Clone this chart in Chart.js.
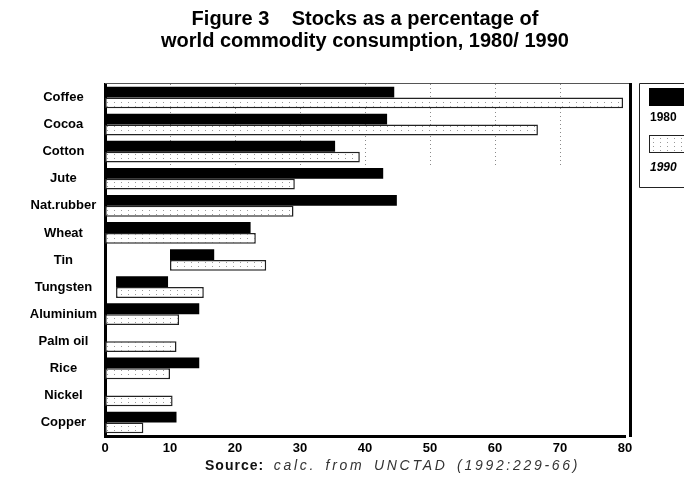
<!DOCTYPE html>
<html><head><meta charset="utf-8">
<script src="https://cdn.jsdelivr.net/npm/chart.js@4"></script>
<style>
html,body{margin:0;padding:0;background:#fff;}
#wrap{position:relative;width:684px;height:479px;}
#source{position:absolute;left:205px;top:457px;font-family:'Liberation Sans',Arial,sans-serif;font-size:14px;color:#111;white-space:nowrap;letter-spacing:2.7px;word-spacing:3px;}
#source b{font-weight:bold;letter-spacing:1px;}
#source i{font-style:italic;color:#333;}
</style></head><body>
<div id="wrap"><canvas id="c" width="684" height="479"></canvas>
<div id="source"><b>Source:</b> <i>calc. from UNCTAD (1992:229-66)</i></div></div>
<script>
const categories = ['Coffee','Cocoa','Cotton','Jute','Nat.rubber','Wheat','Tin','Tungsten','Aluminium','Palm oil','Rice','Nickel','Copper'];
const values1980 = [44.5, 43.4, 35.4, 42.8, 44.9, 22.4, 16.8, 9.7, 14.5, null, 14.5, null, 11.0];
const values1990 = [79.7, 66.6, 39.2, 29.2, 29.0, 23.2, 24.8, 15.2, 11.4, 11.0, 10.0, 10.4, 5.9];
const starts1980 = [0, 0, 0, 0, 0, 0, 10, 1.7, 0, 0, 0, 0, 0];
const starts1990 = [0, 0, 0, 0, 0, 0, 10, 1.7, 0, 0, 0, 0, 0];
const seriesLabels = ['1980', '1990'];
const xTicks = [0, 10, 20, 30, 40, 50, 60, 70, 80];
const titleLines = ['Figure 3    Stocks as a percentage of', 'world commodity consumption, 1980/ 1990'];
const gridRows = 3; // dotted grid visible over the first rows

function makeDots() {
  const p = document.createElement('canvas');
  p.width = 7; p.height = 4;
  const g = p.getContext('2d');
  g.fillStyle = '#fff'; g.fillRect(0, 0, 7, 4);
  g.fillStyle = '#999'; g.fillRect(2, 2, 1, 1);
  return g.createPattern(p, 'repeat');
}
const dots = makeDots();

const FONT = "'Liberation Sans', Arial, sans-serif";

const partialGrid = {
  id: 'partialGrid',
  beforeDatasetsDraw(chart) {
    const {ctx, chartArea, scales: {x, y}} = chart;
    const step = y.getPixelForValue(1) - y.getPixelForValue(0);
    const bottomY = y.getPixelForValue(gridRows - 1) + step / 2;
    ctx.save();
    ctx.strokeStyle = '#8a8a8a';
    ctx.lineWidth = 1;
    ctx.setLineDash([1, 3]);
    for (const t of xTicks) {
      if (t === xTicks[0] || t === xTicks[xTicks.length - 1]) continue;
      const px = Math.round(x.getPixelForValue(t)) + 0.5;
      ctx.beginPath(); ctx.moveTo(px, chartArea.top); ctx.lineTo(px, bottomY); ctx.stroke();
    }
    ctx.restore();
  }
};

const frameAndLegend = {
  id: 'frameAndLegend',
  afterDraw(chart) {
    const {ctx, chartArea} = chart;
    ctx.save();
    ctx.strokeStyle = '#555'; ctx.lineWidth = 1;
    ctx.beginPath(); ctx.moveTo(chartArea.left, chartArea.top - 0.5); ctx.lineTo(chartArea.right + 5, chartArea.top - 0.5); ctx.stroke();
    ctx.strokeStyle = '#000'; ctx.lineWidth = 3;
    const rx = chartArea.right + 5.5;
    ctx.beginPath(); ctx.moveTo(rx, chartArea.top - 1); ctx.lineTo(rx, chartArea.bottom + 1); ctx.stroke();
    const lx = chartArea.right + 14;
    const top = chartArea.top;
    const bot = top + 103;
    ctx.strokeStyle = '#222'; ctx.lineWidth = 1;
    ctx.beginPath();
    ctx.moveTo(684, top - 0.5); ctx.lineTo(lx + 0.5, top - 0.5); ctx.lineTo(lx + 0.5, bot + 0.5); ctx.lineTo(684, bot + 0.5);
    ctx.stroke();
    const ds = chart.data.datasets;
    ctx.fillStyle = ds[0].backgroundColor;
    ctx.fillRect(lx + 10, top + 4, 40, 18);
    ctx.font = 'bold 12px ' + FONT;
    ctx.fillStyle = '#000';
    ctx.textBaseline = 'middle'; ctx.textAlign = 'left';
    ctx.fillText(ds[0].label, lx + 11, top + 34);
    ctx.fillStyle = ds[1].backgroundColor;
    ctx.fillRect(lx + 10, top + 51, 40, 18);
    ctx.strokeStyle = '#222'; ctx.lineWidth = 1;
    ctx.strokeRect(lx + 10.5, top + 51.5, 40, 17);
    ctx.fillStyle = '#000';
    ctx.font = 'italic bold 12px ' + FONT;
    ctx.fillText(ds[1].label, lx + 11, top + 84);
    ctx.restore();
  }
};

new Chart(document.getElementById('c'), {
  type: 'bar',
  data: {
    labels: categories,
    datasets: [
      {
        label: seriesLabels[0],
        data: values1980.map((v, i) => v == null ? null : [starts1980[i], v]),
        backgroundColor: '#000',
        borderWidth: 0,
        categoryPercentage: 0.8,
        barPercentage: 1.0
      },
      {
        label: seriesLabels[1],
        data: values1990.map((v, i) => v == null ? null : [starts1990[i], v]),
        backgroundColor: dots,
        borderColor: '#222',
        borderWidth: 1.5,
        borderSkipped: false,
        categoryPercentage: 0.8,
        barPercentage: 1.0
      }
    ]
  },
  options: {
    indexAxis: 'y',
    responsive: false,
    animation: false,
    devicePixelRatio: 1,
    layout: { padding: { left: 0, right: 59, top: 0, bottom: 0 } },
    plugins: {
      legend: { display: false },
      tooltip: { enabled: false },
      title: {
        display: true,
        fullSize: false,
        text: titleLines,
        color: '#000',
        font: { family: FONT, size: 20, weight: 'bold', lineHeight: 1.1 },
        padding: { top: 8, bottom: 32 }
      }
    },
    scales: {
      x: {
        type: 'linear',
        min: 0, max: 80,
        afterBuildTicks(scale) { scale.ticks = xTicks.map(v => ({value: v})); },
        afterFit(scale) { scale.height = 43; },
        grid: { display: false, drawTicks: false },
        border: { display: true, color: '#000', width: 3 },
        ticks: { color: '#000', padding: 5, font: { family: FONT, size: 13, weight: 'bold' } }
      },
      y: {
        type: 'category',
        afterFit(scale) { scale.width = 105; },
        grid: { display: false, drawTicks: false },
        border: { display: true, color: '#000', width: 3 },
        ticks: { color: '#000', padding: 8, crossAlign: 'center', autoSkip: false, font: { family: FONT, size: 13, weight: 'bold' } }
      }
    }
  },
  plugins: [partialGrid, frameAndLegend]
});
</script>
</body></html>
